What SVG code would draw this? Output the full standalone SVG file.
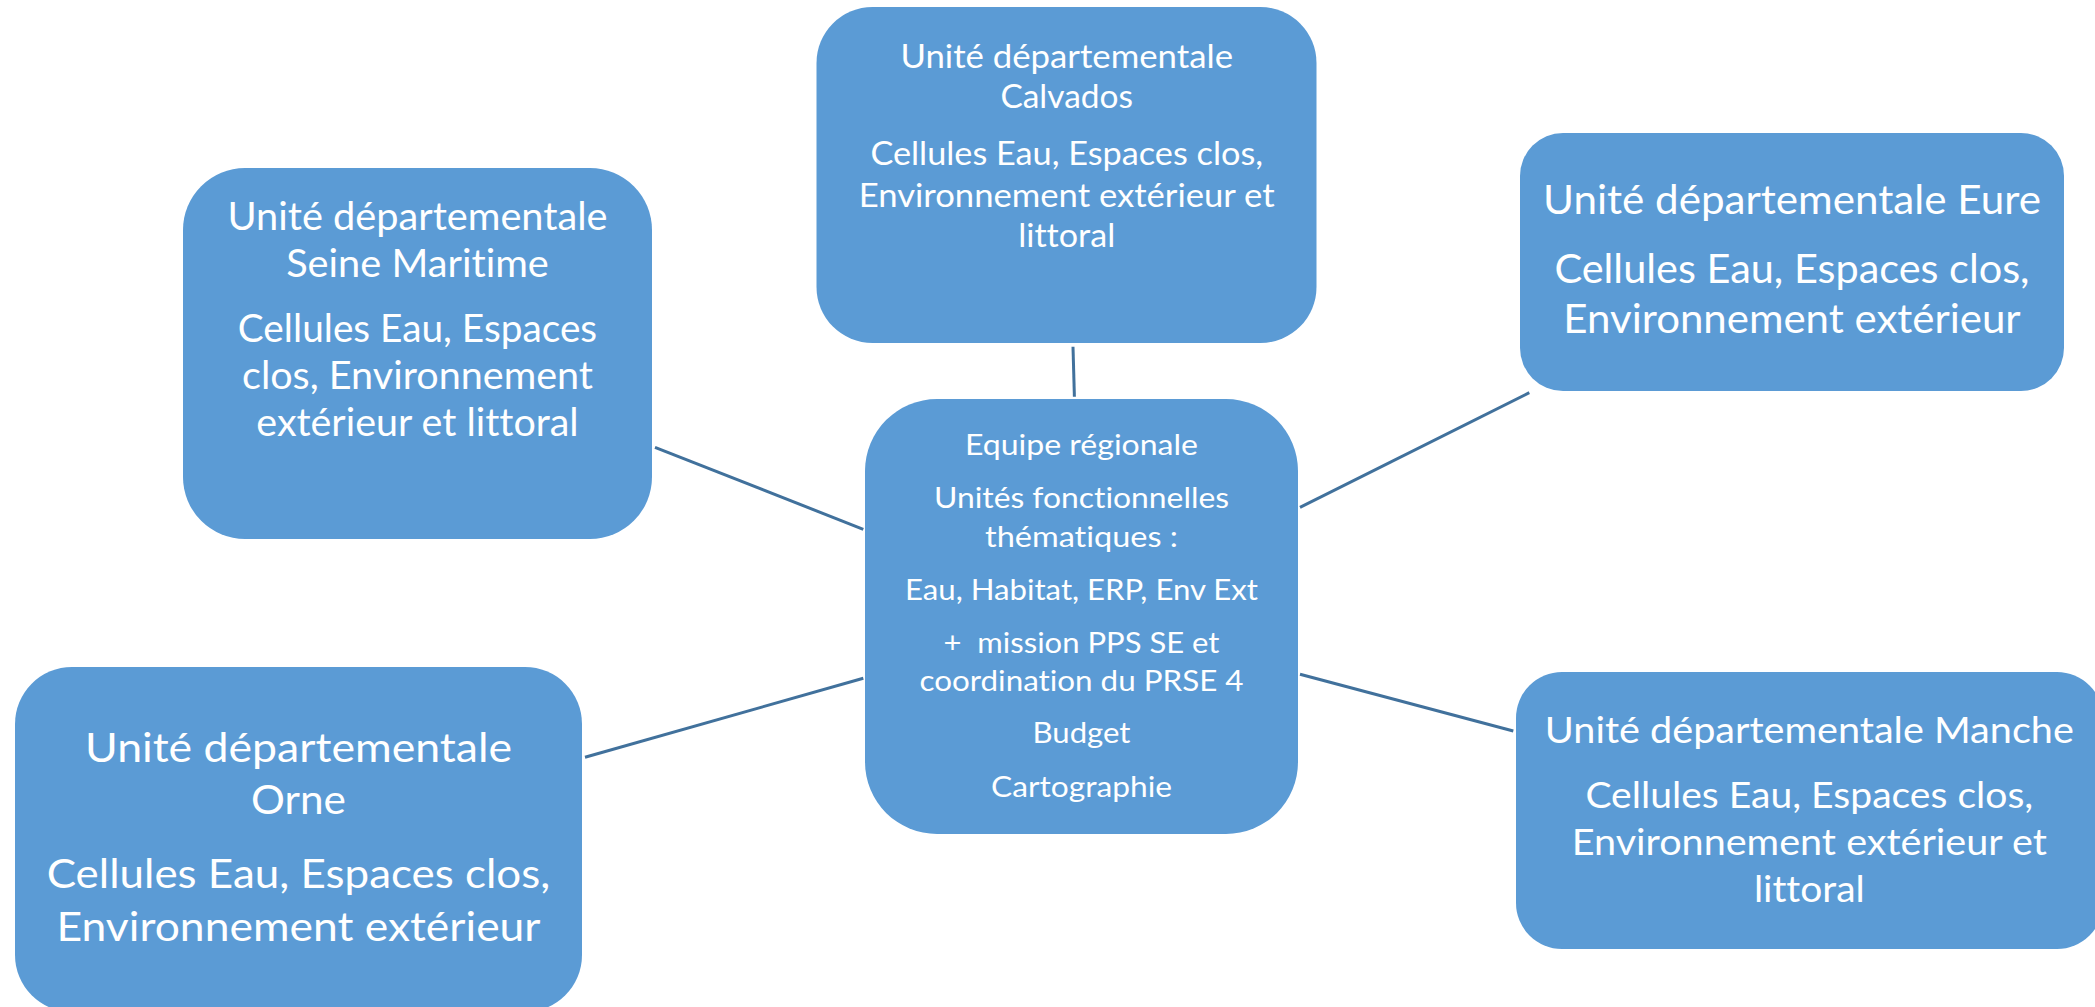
<svg xmlns="http://www.w3.org/2000/svg" width="2095" height="1007" viewBox="0 0 2095 1007">
<style>
.box{fill:#5B9BD5;}
.t{fill:#FFFFFF;font-family:Lato,"Open Sans","Liberation Sans",sans-serif;text-anchor:middle;font-variant-ligatures:none;font-feature-settings:"liga" 0,"dlig" 0;}
.conn line{stroke:#41719C;stroke-width:3;stroke-linecap:butt;}
</style>
<rect width="2095" height="1007" fill="#FFFFFF"/>
<g id="connectors" class="conn">
<line x1="1073" y1="346.7" x2="1074.4" y2="396.7"/>
<line x1="655" y1="447.3" x2="863.3" y2="529.3"/>
<line x1="585" y1="757.3" x2="863.3" y2="678.3"/>
<line x1="1300" y1="507.3" x2="1529.3" y2="392.7"/>
<line x1="1300" y1="674.3" x2="1513.3" y2="731"/>
</g>
<g id="calvados">
<rect class="box" x="816.5" y="7" width="500" height="336" rx="56"/>
<g class="t" font-size="33">
<text x="1066.7" y="68.3" textLength="332.6" lengthAdjust="spacingAndGlyphs">Unité départementale</text>
<text x="1066.7" y="108.3" textLength="132.6" lengthAdjust="spacingAndGlyphs">Calvados</text>
<text x="1066.7" y="165" textLength="392.6" lengthAdjust="spacingAndGlyphs">Cellules Eau, Espaces clos,</text>
<text x="1066.7" y="206.7" textLength="416" lengthAdjust="spacingAndGlyphs">Environnement extérieur et</text>
<text x="1066.7" y="247.3" textLength="97.1" lengthAdjust="spacingAndGlyphs">littoral</text>
</g>
</g>
<g id="equipe-regionale">
<rect class="box" x="865" y="399" width="433" height="435" rx="72"/>
<g class="t" font-size="29.5">
<text x="1081.5" y="455" textLength="233" lengthAdjust="spacingAndGlyphs">Equipe régionale</text>
<text x="1081.5" y="508.3" textLength="295" lengthAdjust="spacingAndGlyphs">Unités fonctionnelles</text>
<text x="1081.5" y="546.7" textLength="193" lengthAdjust="spacingAndGlyphs">thématiques :</text>
<text x="1081.5" y="600" textLength="353" lengthAdjust="spacingAndGlyphs">Eau, Habitat, ERP, Env Ext</text>
<text x="1081.5" y="653.3" textLength="276" lengthAdjust="spacingAndGlyphs" xml:space="preserve">+  mission PPS SE et</text>
<text x="1081.5" y="691" textLength="324" lengthAdjust="spacingAndGlyphs">coordination du PRSE 4</text>
<text x="1081.5" y="743.3" textLength="98" lengthAdjust="spacingAndGlyphs">Budget</text>
<text x="1081.5" y="796.7" textLength="181" lengthAdjust="spacingAndGlyphs">Cartographie</text>
</g>
</g>
<g id="seine-maritime">
<rect class="box" x="183" y="168" width="469" height="371" rx="62"/>
<g class="t" font-size="37.7">
<text x="417.5" y="230" textLength="380" lengthAdjust="spacingAndGlyphs">Unité départementale</text>
<text x="417.5" y="277.3" textLength="262.7" lengthAdjust="spacingAndGlyphs">Seine Maritime</text>
<text x="417.5" y="341.7" textLength="359.3" lengthAdjust="spacingAndGlyphs">Cellules Eau, Espaces</text>
<text x="417.5" y="389.3" textLength="351" lengthAdjust="spacingAndGlyphs">clos, Environnement</text>
<text x="417.5" y="436" textLength="322.3" lengthAdjust="spacingAndGlyphs">extérieur et littoral</text>
</g>
</g>
<g id="orne">
<rect class="box" x="15" y="667" width="567" height="345" rx="57"/>
<g class="t" font-size="41.5">
<text x="298.5" y="761.7" textLength="427" lengthAdjust="spacingAndGlyphs">Unité départementale</text>
<text x="298.5" y="814" textLength="94.9" lengthAdjust="spacingAndGlyphs">Orne</text>
<text x="298.5" y="887.7" textLength="503.6" lengthAdjust="spacingAndGlyphs">Cellules Eau, Espaces clos,</text>
<text x="298.5" y="941" textLength="484.1" lengthAdjust="spacingAndGlyphs">Environnement extérieur</text>
</g>
</g>
<g id="eure">
<rect class="box" x="1520" y="133" width="544" height="258" rx="43"/>
<g class="t" font-size="39.9">
<text x="1792" y="214" textLength="497.9" lengthAdjust="spacingAndGlyphs">Unité départementale Eure</text>
<text x="1792" y="283.3" textLength="475.1" lengthAdjust="spacingAndGlyphs">Cellules Eau, Espaces clos,</text>
<text x="1792" y="333.3" textLength="457.3" lengthAdjust="spacingAndGlyphs">Environnement extérieur</text>
</g>
</g>
<g id="manche">
<rect class="box" x="1516" y="672" width="587" height="277" rx="46"/>
<g class="t" font-size="37.6">
<text x="1809.3" y="743.3" textLength="529" lengthAdjust="spacingAndGlyphs">Unité départementale Manche</text>
<text x="1809.3" y="808.3" textLength="447.8" lengthAdjust="spacingAndGlyphs">Cellules Eau, Espaces clos,</text>
<text x="1809.3" y="855" textLength="475.1" lengthAdjust="spacingAndGlyphs">Environnement extérieur et</text>
<text x="1809.3" y="901.7" textLength="110.8" lengthAdjust="spacingAndGlyphs">littoral</text>
</g>
</g>
</svg>
